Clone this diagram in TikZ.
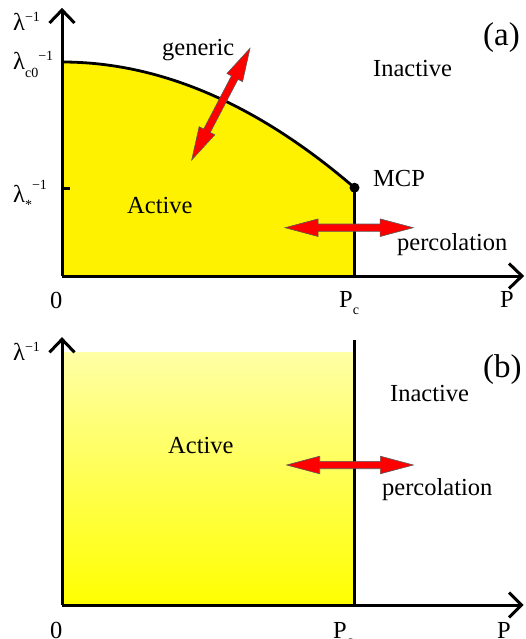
\documentclass[tikz,border=0pt]{standalone}
\usepackage{fontspec}
\setmainfont{Liberation Serif}
\usetikzlibrary{calc}
\newcommand\upidx[1]{\raisebox{9pt}{\fontsize{14}{14}\selectfont #1}}
\newcommand\dnidx[1]{\raisebox{-7.5pt}{\fontsize{14}{14}\selectfont #1}}
\tikzset{
  lab/.style={anchor=base west, inner sep=0pt, font=\fontsize{24.5}{28}\selectfont},
  biglab/.style={anchor=base west, inner sep=0pt, font=\fontsize{33}{36}\selectfont},
  axis/.style={line width=3pt, line cap=butt, line join=miter},
  arrowstyle/.style={fill=red, draw=black!65, line width=0.6pt},
  pics/dblarrow/.style={code={
    \filldraw[arrowstyle] (-#1,0) -- (-#1+33,-8.8) -- (-#1+33,-3.7) -- (#1-33,-3.7)
      -- (#1-33,-8.8) -- (#1,0) -- (#1-33,8.8) -- (#1-33,3.7) -- (-#1+33,3.7)
      -- (-#1+33,8.8) -- cycle;
  }}
}
\begin{document}
\begin{tikzpicture}[x=1pt,y=-1pt]
\useasboundingbox (0,0) rectangle (525,639);
% ---------------- panel (a) ----------------
\coordinate (oa) at (62,276);
\coordinate (ya) at (62,10);
\coordinate (xa) at (522,276);
\coordinate (ca) at (62,62);
\coordinate (mcp) at (354.5,187.7);
\coordinate (pca) at (354.5,276);
\fill[yellow] (oa) -- (ca) .. controls (159.7,62) and (257.3,103.9) .. (mcp) -- (pca) -- cycle;
\draw[line width=2.8pt] (ca) .. controls (159.7,62) and (257.3,103.9) .. (mcp);
\draw[line width=3.2pt] (mcp) -- (pca);
\draw[axis] (oa) -- (ya);
\draw[axis] (oa) -- (xa);
\draw[axis] ($(ya)+(-12.5,13)$) -- (ya) -- ($(ya)+(12.5,13)$);
\draw[axis] ($(xa)+(-13,-12.5)$) -- (xa) -- ($(xa)+(-13,12.5)$);
\coordinate (tk) at (62,188.3);
\draw[line width=3pt] (tk) -- ++(8,0);
\fill (mcp) circle (5);
\pic[rotate=62.43] (gen) at (220.85,104.15) {dblarrow=63};
\pic (perca) at (349.15,227.7) {dblarrow=64};
\node[lab] (l1) at (13,31) {λ\upidx{−1}};
\node[lab] (l2) at (13,70) {λ\dnidx{c0}\upidx{−1}};
\node[lab] (l3) at (13,202) {λ\dnidx{*}\raisebox{13pt}{\fontsize{14}{14}\selectfont −1}};
\node[lab] (ga) at (162,56) {generic};
\node[lab] (ina) at (373,77) {Inactive};
\node[biglab] (pa) at (483,46) {(a)};
\node[lab] (mcpl) at (373,186.5) {MCP};
\node[lab] (aca) at (127,213) {Active};
\node[lab] (pla) at (397,250) {percolation};
\node[lab] (za) at (50,308) {0};
\node[lab] (pcla) at (339,307) {P\dnidx{c}};
\node[lab] (pxa) at (500,307) {P};
% ---------------- panel (b) ----------------
\coordinate (ob) at (62,605);
\coordinate (yb) at (62,339.3);
\coordinate (xb) at (521.5,605);
\shade[top color=yellow!35!white, bottom color=yellow] (62,352.3) rectangle (354.5,605);
\draw[line width=2.2pt] (354.5,340) -- (354.5,605);
\draw[axis] (ob) -- (yb);
\draw[axis] (ob) -- (xb);
\draw[axis] ($(yb)+(-12.5,13)$) -- (yb) -- ($(yb)+(12.5,13)$);
\draw[axis] ($(xb)+(-12.5,-12.5)$) -- (xb) -- ($(xb)+(-12.5,12.5)$);
\pic (percb) at (350,465) {dblarrow=63.3};
\node[lab] (l4) at (13,360) {λ\upidx{−1}};
\node[lab] (inb) at (390,401.5) {Inactive};
\node[biglab] (pb) at (483,377) {(b)};
\node[lab] (acb) at (168,453) {Active};
\node[lab] (plb) at (382,495) {percolation};
\node[lab] (zb) at (50,638.5) {0};
\node[lab] (pclb) at (333,638) {P\dnidx{c}};
\node[lab] (pxb) at (497,638) {P};
\end{tikzpicture}
\end{document}
